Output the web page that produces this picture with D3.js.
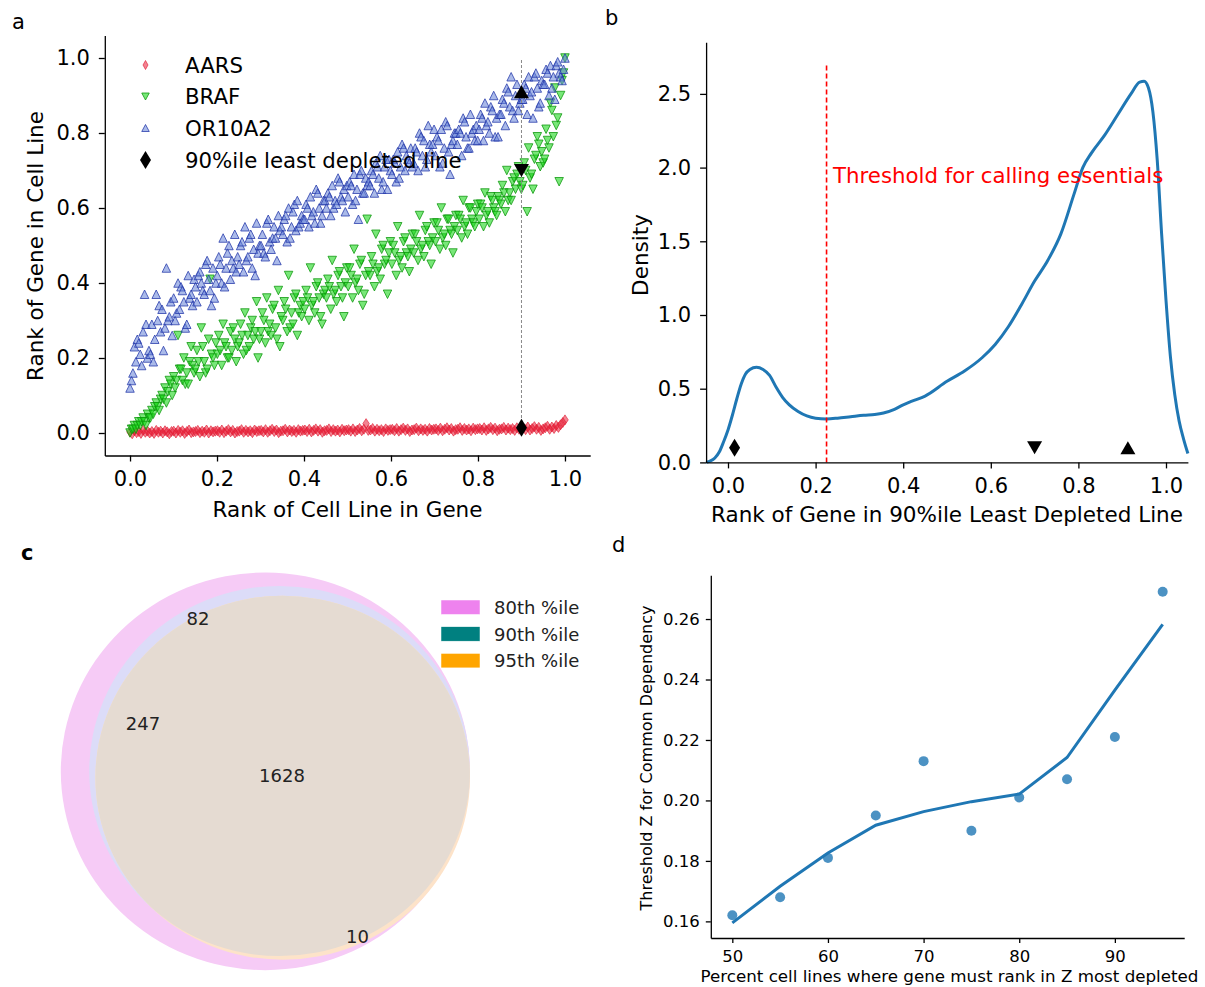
<!DOCTYPE html>
<html><head><meta charset="utf-8">
<script src="https://cdn.jsdelivr.net/npm/d3@7"></script>
<style>body{margin:0;background:#fff}svg{display:block;font-family:"DejaVu Sans",sans-serif}</style>
</head><body><svg id="c" width="1205" height="987"></svg>
<script>
// ---------- Panel a data ----------
const rankTicks=[0,0.2,0.4,0.6,0.8,1.0];
const scatterGenes=["AARS","BRAF","OR10A2"];
const aarsY=[.003,-.002,.006,.001,.004,-.001,.007,.002,.005,.000,
.004,-.001,.007,.002,.005,.000,.006,.003,-.002,.004,
.005,.000,.007,.002,.006,-.001,.004,.008,.001,.003,
.004,.007,.001,.005,.002,.008,.000,.006,.003,.005,
.006,.002,.008,.001,.005,.009,.003,.007,.000,.004,
.005,.009,.002,.007,.003,.006,.001,.008,.004,.006,
.007,.003,.009,.002,.006,.010,.004,.008,.001,.005,
.006,.010,.003,.008,.004,.007,.002,.009,.005,.007,
.008,.004,.010,.003,.007,.011,.005,.009,.002,.006,
.007,.011,.004,.009,.005,.008,.003,.010,.006,.008,
.009,.005,.011,.004,.008,.012,.006,.010,.025,.007,
.008,.012,.005,.010,.006,.009,.004,.011,.007,.009,
.010,.006,.012,.005,.009,.013,.007,.011,.004,.008,
.009,.013,.006,.011,.007,.010,.005,.012,.008,.010,
.011,.007,.013,.006,.010,.014,.008,.012,.005,.009,
.010,.014,.007,.012,.008,.011,.006,.013,.009,.011,
.012,.008,.014,.007,.011,.015,.009,.013,.006,.010,
.011,.015,.008,.013,.009,.012,.007,.014,.010,.012,
.013,.009,.016,.008,.012,.017,.010,.015,.007,.011,
.014,.018,.010,.016,.012,.020,.015,.022,.028,.035];
const brafY=[0.00,0.01,0.01,0.02,0.01,0.02,0.03,0.02,0.03,0.04,0.03,0.02,0.05,0.04,0.04,
0.06,0.05,0.07,0.08,0.07,0.06,0.09,0.10,0.09,0.12,0.08,0.11,0.14,0.13,0.10,
0.15,0.12,0.14,0.26,0.17,0.17,0.14,0.20,0.13,0.16,0.13,0.19,0.23,0.18,0.16,
0.17,0.22,0.19,0.15,0.28,0.23,0.19,0.16,0.17,0.25,0.41,0.21,0.20,0.18,0.24,
0.21,0.26,0.22,0.18,0.29,0.24,0.23,0.20,0.20,0.27,0.22,0.28,0.25,0.19,0.23,
0.24,0.29,0.26,0.21,0.32,0.22,0.26,0.23,0.28,0.30,0.25,0.27,0.35,0.20,0.25,
0.27,0.32,0.30,0.24,0.36,0.27,0.29,0.26,0.33,0.34,0.28,0.25,0.38,0.23,0.31,
0.30,0.35,0.33,0.27,0.42,0.28,0.32,0.29,0.36,0.37,0.26,0.32,0.34,0.31,0.35,
0.33,0.38,0.36,0.30,0.44,0.34,0.35,0.32,0.39,0.40,0.36,0.31,0.29,0.37,0.38,
0.36,0.41,0.39,0.33,0.46,0.37,0.38,0.35,0.42,0.43,0.39,0.36,0.31,0.40,0.44,
0.39,0.44,0.42,0.36,0.49,0.40,0.41,0.38,0.45,0.46,0.34,0.37,0.42,0.57,0.43,
0.42,0.47,0.45,0.39,0.53,0.43,0.44,0.41,0.49,0.50,0.45,0.46,0.37,0.48,0.51,
0.45,0.50,0.48,0.42,0.55,0.46,0.47,0.44,0.51,0.52,0.48,0.47,0.43,0.49,0.53,
0.48,0.53,0.51,0.46,0.58,0.49,0.50,0.47,0.54,0.55,0.51,0.50,0.45,0.52,0.56,
0.51,0.56,0.54,0.49,0.60,0.52,0.53,0.50,0.57,0.57,0.54,0.53,0.48,0.55,0.58,
0.54,0.58,0.57,0.52,0.62,0.55,0.56,0.53,0.60,0.60,0.57,0.56,0.55,0.59,0.61,
0.57,0.61,0.60,0.55,0.64,0.58,0.59,0.56,0.63,0.62,0.60,0.59,0.58,0.63,0.62,
0.61,0.66,0.64,0.59,0.70,0.62,0.64,0.62,0.67,0.68,0.65,0.69,0.71,0.67,0.65,
0.66,0.72,0.70,0.59,0.76,0.68,0.69,0.65,0.73,0.74,0.79,0.77,0.71,0.75,0.72,
0.73,0.81,0.78,0.76,0.88,0.86,0.79,0.92,0.82,0.84,0.67,0.90,0.94,0.96,1.00];
const or10a2Y=[0.12,0.14,0.16,0.23,0.19,0.25,0.24,0.21,0.18,0.27,0.37,0.29,0.20,0.22,0.21,
0.29,0.19,0.25,0.37,0.30,0.34,0.27,0.33,0.22,0.28,0.44,0.30,0.31,0.35,0.26,
0.36,0.30,0.32,0.40,0.33,0.39,0.38,0.35,0.28,0.29,0.42,0.36,0.37,0.34,0.41,
0.39,0.35,0.42,0.43,0.40,0.38,0.37,0.45,0.46,0.41,0.38,0.34,0.44,0.36,0.40,
0.42,0.47,0.45,0.40,0.52,0.39,0.44,0.48,0.50,0.41,0.46,0.44,0.53,0.43,0.47,
0.45,0.50,0.51,0.43,0.55,0.46,0.47,0.52,0.53,0.44,0.49,0.42,0.56,0.48,0.50,
0.50,0.53,0.48,0.47,0.56,0.57,0.51,0.49,0.52,0.55,0.52,0.46,0.58,0.54,0.55,
0.53,0.57,0.58,0.51,0.60,0.52,0.55,0.59,0.61,0.54,0.62,0.55,0.56,0.58,0.57,
0.57,0.61,0.60,0.55,0.63,0.58,0.59,0.56,0.65,0.64,0.60,0.56,0.58,0.62,0.62,
0.60,0.64,0.63,0.58,0.66,0.60,0.62,0.61,0.68,0.67,0.63,0.62,0.65,0.59,0.66,
0.63,0.67,0.66,0.61,0.69,0.62,0.65,0.57,0.69,0.70,0.64,0.64,0.68,0.66,0.67,
0.66,0.70,0.69,0.64,0.72,0.71,0.68,0.74,0.65,0.67,0.71,0.73,0.65,0.73,0.70,
0.69,0.73,0.72,0.67,0.75,0.68,0.71,0.77,0.76,0.70,0.74,0.73,0.72,0.76,0.71,
0.72,0.76,0.75,0.70,0.80,0.79,0.74,0.78,0.71,0.73,0.82,0.77,0.75,0.77,0.81,
0.74,0.79,0.78,0.71,0.81,0.72,0.76,0.83,0.82,0.75,0.69,0.77,0.78,0.80,0.80,
0.77,0.81,0.80,0.74,0.84,0.83,0.79,0.76,0.76,0.85,0.80,0.81,0.78,0.82,0.78,
0.81,0.85,0.84,0.78,0.88,0.82,0.83,0.80,0.87,0.86,0.90,0.79,0.84,0.79,0.85,
0.85,0.89,0.88,0.82,0.92,0.91,0.87,0.95,0.86,0.84,0.90,0.93,0.86,0.88,0.89,
0.89,0.93,0.92,0.85,0.95,0.90,0.91,0.84,0.95,0.96,0.92,0.87,0.88,0.94,0.93,
0.93,0.97,0.96,0.90,0.98,0.92,0.95,0.89,0.98,0.99,0.96,0.95,0.94,0.97,1.00];
const refLineRank=0.9;               // 90%ile least depleted line
const refGeneRanks=[0.014,0.70,0.91]; // AARS, BRAF, OR10A2 in that line

// ---------- Panel b data ----------
const kdeX=[-0.05,-0.04,-0.03,-0.02,-0.01,0.0,0.01,0.02,0.03,0.04,0.05,0.065,0.08,0.095,0.11,0.125,0.14,0.16,0.18,0.2,0.225,0.25,0.28,0.31,0.335,0.355,0.38,0.4,0.42,0.45,0.5,0.54,0.58,0.61,0.64,0.67,0.7,0.73,0.76,0.79,0.81,0.83,0.86,0.89,0.92,0.94,0.95,0.96,0.97,0.98,0.99,1.0,1.01,1.02,1.03,1.04,1.05];
const kdeY=[0.0,0.01,0.03,0.07,0.14,0.22,0.32,0.43,0.53,0.60,0.63,0.645,0.63,0.59,0.51,0.44,0.39,0.345,0.315,0.30,0.295,0.30,0.31,0.32,0.325,0.335,0.36,0.39,0.415,0.45,0.55,0.62,0.71,0.80,0.92,1.07,1.23,1.37,1.55,1.82,2.0,2.10,2.22,2.36,2.50,2.58,2.585,2.54,2.38,2.05,1.55,1.10,0.72,0.46,0.28,0.16,0.06];
const densityTicks=[0,0.5,1.0,1.5,2.0,2.5];
const thresholdRank=0.225;
const markerRanksB=[0.015,0.70,0.913];

// ---------- Panel c data ----------
const vennSets=["80th %ile","90th %ile","95th %ile"];
const vennColors=["#ee82ee","#008080","#ffa500"];
const vennCounts=["82","247","1628","10"];

// ---------- Panel d data ----------
const pctX=[50,55,60,65,70,75,80,85,90,95];
const thrZ=[0.162,0.168,0.181,0.195,0.213,0.190,0.201,0.207,0.221,0.269];
const fitZ=[0.1595,0.1716,0.1826,0.1918,0.1963,0.1996,0.2021,0.2142,0.2365,0.2582];
const zTicks=[0.16,0.18,0.20,0.22,0.24,0.26];
const pctTicks=[50,60,70,80,90];

const svg=d3.select("#c");
const FONT='"DejaVu Sans", sans-serif';

function styleAxis(g,fs){
  g.attr("font-family",FONT).attr("font-size",fs);
  g.select(".domain").attr("stroke","#000").attr("stroke-width",1.3);
  g.selectAll(".tick line").attr("stroke","#000").attr("stroke-width",1.3);
  g.selectAll(".tick text").attr("fill","#000");
}
function mk(type,w,h){
  if(type==="up") return `M0,${-h/2}L${w/2},${h/2}L${-w/2},${h/2}Z`;
  if(type==="down") return `M0,${h/2}L${w/2},${-h/2}L${-w/2},${-h/2}Z`;
  return `M0,${-h/2}L${w/2},0L0,${h/2}L${-w/2},0Z`;
}
function label(txt,x,y,fs,opts={}){
  const t=svg.append("text").attr("x",x).attr("y",y).attr("font-size",fs).attr("font-family",FONT).attr("fill",opts.fill||"#000").text(txt);
  if(opts.anchor) t.attr("text-anchor",opts.anchor);
  if(opts.rotate) t.attr("transform",`rotate(-90,${x},${y})`);
  if(opts.weight) t.attr("font-weight",opts.weight);
  return t;
}

// ================= Panel a =================
const xA=d3.scaleLinear().domain([-0.058,1.058]).range([104.8,590.2]);
const yA=d3.scaleLinear().domain([-0.06,1.06]).range([455.5,35.5]);
const gA=svg.append("g");
const styles={
  AARS:{type:"dia",w:6.5,h:10,fill:"rgba(232,30,55,0.55)",stroke:"rgba(225,25,50,0.7)"},
  BRAF:{type:"down",w:8.5,h:8.5,fill:"rgba(30,215,30,0.6)",stroke:"rgba(10,150,10,0.85)"},
  OR10A2:{type:"up",w:8.5,h:8.5,fill:"rgba(100,130,215,0.55)",stroke:"rgba(35,55,170,0.85)"}
};
const legStyles={
  AARS:{type:"dia",w:5,h:9},BRAF:{type:"down",w:7.5,h:7},OR10A2:{type:"up",w:7.5,h:7}
};
const seriesA=[["AARS",aarsY],["BRAF",brafY],["OR10A2",or10a2Y]];
seriesA.forEach(([name,ys])=>{
  const s=styles[name];const n=ys.length;
  gA.append("g").selectAll("path").data(ys).join("path")
    .attr("d",mk(s.type,s.w,s.h))
    .attr("transform",(d,i)=>`translate(${xA(i/(n-1))},${yA(d)})`)
    .attr("fill",s.fill).attr("stroke",s.stroke).attr("stroke-width",0.9);
});
gA.append("line").attr("x1",xA(refLineRank)).attr("x2",xA(refLineRank))
  .attr("y1",yA(0)).attr("y2",yA(1.0)).attr("stroke","#888").attr("stroke-width",1).attr("stroke-dasharray","3,2");
const blackTypes=[["dia",11,18],["down",15,13],["up",15,13]];
refGeneRanks.forEach((r,i)=>{
  const [t,w,h]=blackTypes[i];
  gA.append("path").attr("d",mk(t,w,h)).attr("transform",`translate(${xA(refLineRank)},${yA(r)})`).attr("fill","#000");
});
const axXA=gA.append("g").attr("transform",`translate(0,${yA.range()[0]})`)
  .call(d3.axisBottom(xA).tickValues(rankTicks).tickFormat(d3.format(".1f")).tickSize(6).tickSizeOuter(0).tickPadding(10));
styleAxis(axXA,21);
const axYA=gA.append("g").attr("transform",`translate(${xA.range()[0]},0)`)
  .call(d3.axisLeft(yA).tickValues(rankTicks).tickFormat(d3.format(".1f")).tickSize(6).tickSizeOuter(0).tickPadding(9));
styleAxis(axYA,21);
label("Rank of Cell Line in Gene",347.5,517,21.5,{anchor:"middle"});
label("Rank of Gene in Cell Line",43,246,21.5,{anchor:"middle",rotate:true});
label("a",12,29,21);
// legend a
const legRows=[["AARS",65],["BRAF",96.5],["OR10A2",128],["90%ile least depleted line",160]];
legRows.forEach(([name,y],i)=>{
  if(i<3){const s=styles[name],l=legStyles[name];
    gA.append("path").attr("d",mk(l.type,l.w,l.h)).attr("transform",`translate(145.5,${y})`).attr("fill",s.fill).attr("stroke",s.stroke).attr("stroke-width",0.9);
  } else {
    gA.append("path").attr("d",mk("dia",11,18)).attr("transform",`translate(145.5,${y})`).attr("fill","#000");
  }
  label(name,185,y+7.6,21.3);
});

// ================= Panel b =================
const xB=d3.scaleLinear().domain([-0.05,1.05]).range([706.1,1187.9]);
const yB=d3.scaleLinear().domain([0,2.85]).range([462.4,42.3]);
const gB=svg.append("g");
gB.append("path").datum(kdeX.map((x,i)=>[x,kdeY[i]]))
  .attr("d",d3.line().x(d=>xB(d[0])).y(d=>yB(d[1])).curve(d3.curveMonotoneX))
  .attr("fill","none").attr("stroke","#1f77b4").attr("stroke-width",3);
gB.append("line").attr("x1",xB(thresholdRank)).attr("x2",xB(thresholdRank)).attr("y1",yB(0)).attr("y2",yB(2.71))
  .attr("stroke","#ff0000").attr("stroke-width",1.6).attr("stroke-dasharray","5,3");
label("Threshold for calling essentials",833,182.5,21.3,{fill:"#ff0000"});
markerRanksB.forEach((r,i)=>{
  const [t,w,h]=blackTypes[i];
  gB.append("path").attr("d",mk(t,w,h)).attr("transform",`translate(${xB(r)},${yB(0.1)})`).attr("fill","#000");
});
const axXB=gB.append("g").attr("transform",`translate(0,${yB.range()[0]})`)
  .call(d3.axisBottom(xB).tickValues(rankTicks).tickFormat(d3.format(".1f")).tickSize(6).tickSizeOuter(0).tickPadding(10));
styleAxis(axXB,21);
const axYB=gB.append("g").attr("transform",`translate(${xB.range()[0]},0)`)
  .call(d3.axisLeft(yB).tickValues(densityTicks).tickFormat(d3.format(".1f")).tickSize(6).tickSizeOuter(0).tickPadding(9));
styleAxis(axYB,21);
label("Rank of Gene in 90%ile Least Depleted Line",947,522,21.5,{anchor:"middle"});
label("Density",648,255,21.5,{anchor:"middle",rotate:true});
label("b",605,25,21);

// ================= Panel c =================
const gC=svg.append("g");
const sy=0.972;
const circles=[{cx:265.4,cy:771.3,r:204.6},{cx:279.6,cy:771,r:190.4},{cx:282.7,cy:777.7,r:187.3}];
const defs=svg.append("defs");
defs.append("clipPath").attr("id","clip90").append("ellipse")
  .attr("cx",circles[1].cx).attr("cy",circles[1].cy).attr("rx",circles[1].r).attr("ry",circles[1].r*sy);
const ell=(c,fill,clip)=>{const e=gC.append("ellipse").attr("cx",c.cx).attr("cy",c.cy).attr("rx",c.r).attr("ry",c.r*sy).attr("fill",fill);if(clip)e.attr("clip-path",clip);};
ell(circles[0],"#f6cbf6");
ell(circles[1],"#dcdcf8");
ell(circles[2],"#fde3c9");
ell(circles[2],"#e5dbd2","url(#clip90)");
const countPos=[[198,618.5],[143,723.5],[282,775],[357.5,936]];
vennCounts.forEach((t,i)=>label(t,countPos[i][0],countPos[i][1]+6.5,18,{anchor:"middle",fill:"#222"}));
vennSets.forEach((s,i)=>{
  const y=600+i*26.7;
  gC.append("rect").attr("x",441).attr("y",y).attr("width",39).attr("height",14.5).attr("fill",vennColors[i]).attr("stroke","#fff").attr("stroke-width",0.5);
  label(s,494,y+7.5+6.4,18,{fill:"#222"});
});
label("c",21,560,21,{weight:"bold"});

// ================= Panel d =================
const xD=d3.scaleLinear().domain([47.75,97.25]).range([710.8,1184.2]);
const yD=d3.scaleLinear().domain([0.1545,0.2745]).range([938,575.2]);
const gD=svg.append("g");
gD.append("path").datum(pctX.map((x,i)=>[x,fitZ[i]]))
  .attr("d",d3.line().x(d=>xD(d[0])).y(d=>yD(d[1])))
  .attr("fill","none").attr("stroke","#1f77b4").attr("stroke-width",3);
gD.append("g").selectAll("circle").data(pctX).join("circle")
  .attr("cx",d=>xD(d)).attr("cy",(d,i)=>yD(thrZ[i])).attr("r",5)
  .attr("fill","rgba(31,119,180,0.8)");
const axXD=gD.append("g").attr("transform",`translate(0,${yD.range()[0]})`)
  .call(d3.axisBottom(xD).tickValues(pctTicks).tickFormat(d3.format("d")).tickSize(5).tickSizeOuter(0).tickPadding(7));
styleAxis(axXD,16.5);
const axYD=gD.append("g").attr("transform",`translate(${xD.range()[0]},0)`)
  .call(d3.axisLeft(yD).tickValues(zTicks).tickFormat(d3.format(".2f")).tickSize(5).tickSizeOuter(0).tickPadding(6));
styleAxis(axYD,16.5);
label("Percent cell lines where gene must rank in Z most depleted",949.5,981.5,16.7,{anchor:"middle"});
label("Threshold Z for Common Dependency",651.5,758,16,{anchor:"middle",rotate:true});
label("d",612,552,21);
</script></body></html>
